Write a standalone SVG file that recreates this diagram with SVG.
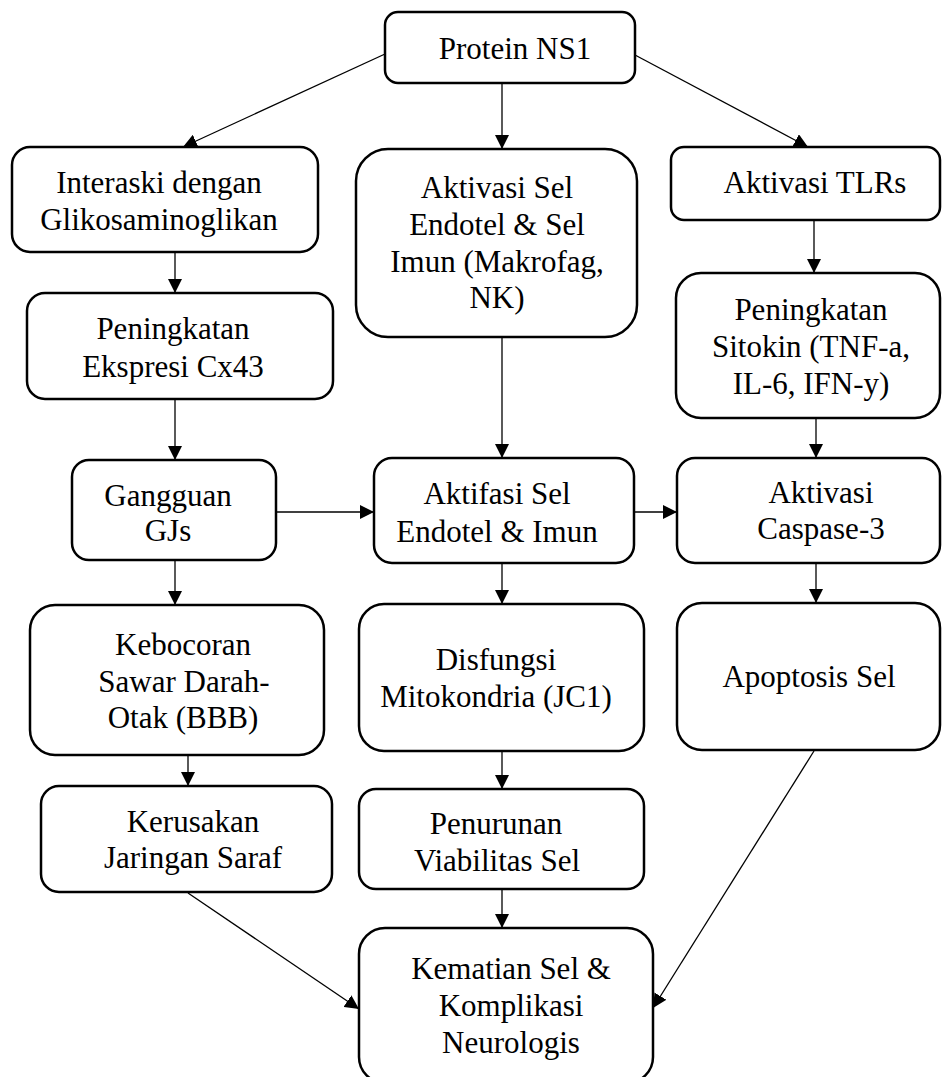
<svg xmlns="http://www.w3.org/2000/svg" width="942" height="1077" viewBox="0 0 942 1077">
<style>
.box{fill:#fff;stroke:#000;stroke-width:2.5}
.t{font-family:"Liberation Serif","Times New Roman",serif;font-size:31px;fill:#000;text-anchor:middle}
.c{stroke:#000;stroke-width:1.3;fill:none}
</style>
<defs>
<marker id="ah" viewBox="0 0 14 14" refX="14" refY="7" markerWidth="14" markerHeight="14" markerUnits="userSpaceOnUse" orient="auto">
<path d="M0,0 L14,7 L0,14 Z" fill="#000"/>
</marker>
</defs>
<rect width="942" height="1077" fill="#fff"/>
<g id="connectors">
<line class="c" x1="385" y1="54" x2="183" y2="147" marker-end="url(#ah)"/>
<line class="c" x1="502" y1="83" x2="502" y2="149" marker-end="url(#ah)"/>
<line class="c" x1="635" y1="55" x2="808" y2="147" marker-end="url(#ah)"/>
<line class="c" x1="814" y1="220" x2="814" y2="273" marker-end="url(#ah)"/>
<line class="c" x1="175" y1="252" x2="175" y2="293" marker-end="url(#ah)"/>
<line class="c" x1="175" y1="399" x2="175" y2="460" marker-end="url(#ah)"/>
<line class="c" x1="502" y1="337" x2="502" y2="458" marker-end="url(#ah)"/>
<line class="c" x1="816" y1="418" x2="816" y2="458" marker-end="url(#ah)"/>
<line class="c" x1="276" y1="512" x2="374" y2="512" marker-end="url(#ah)"/>
<line class="c" x1="634" y1="512" x2="677" y2="512" marker-end="url(#ah)"/>
<line class="c" x1="175" y1="560" x2="175" y2="605" marker-end="url(#ah)"/>
<line class="c" x1="502" y1="563" x2="502" y2="604" marker-end="url(#ah)"/>
<line class="c" x1="816" y1="563" x2="816" y2="603" marker-end="url(#ah)"/>
<line class="c" x1="188" y1="755" x2="188" y2="786" marker-end="url(#ah)"/>
<line class="c" x1="502" y1="751" x2="502" y2="789" marker-end="url(#ah)"/>
<line class="c" x1="502" y1="889" x2="502" y2="928" marker-end="url(#ah)"/>
<line class="c" x1="188" y1="893" x2="359" y2="1009" marker-end="url(#ah)"/>
<line class="c" x1="814" y1="751" x2="653" y2="1008" marker-end="url(#ah)"/>
</g>
<g id="n1"><rect class="box" x="385" y="12" width="250" height="71" rx="13"/><text class="t" x="515" y="59">Protein NS1</text></g>
<g id="n2"><rect class="box" x="12" y="147" width="306" height="105" rx="18"/><text class="t" x="159" y="193">Interaski dengan</text><text class="t" x="159" y="230">Glikosaminoglikan</text></g>
<g id="n3"><rect class="box" x="356" y="149" width="281" height="188" rx="32"/><text class="t" x="497" y="198">Aktivasi Sel</text><text class="t" x="497" y="235">Endotel &amp; Sel</text><text class="t" x="497" y="272">Imun (Makrofag,</text><text class="t" x="497" y="308">NK)</text></g>
<g id="n4"><rect class="box" x="671" y="147" width="269" height="73" rx="13"/><text class="t" x="815" y="193">Aktivasi TLRs</text></g>
<g id="n5"><rect class="box" x="27" y="293" width="306" height="106" rx="18"/><text class="t" x="173" y="339">Peningkatan</text><text class="t" x="173" y="377">Ekspresi Cx43</text></g>
<g id="n6"><rect class="box" x="676" y="273" width="264" height="145" rx="25"/><text class="t" x="811" y="320">Peningkatan</text><text class="t" x="811" y="357">Sitokin (TNF-a,</text><text class="t" x="811" y="394">IL-6, IFN-y)</text></g>
<g id="n7"><rect class="box" x="72" y="460" width="204" height="100" rx="17"/><text class="t" x="168" y="506">Gangguan</text><text class="t" x="168" y="541">GJs</text></g>
<g id="n8"><rect class="box" x="374" y="458" width="260" height="105" rx="18"/><text class="t" x="497" y="504">Aktifasi Sel</text><text class="t" x="497" y="542">Endotel &amp; Imun</text></g>
<g id="n9"><rect class="box" x="677" y="458" width="263" height="105" rx="18"/><text class="t" x="821" y="503">Aktivasi</text><text class="t" x="821" y="539">Caspase-3</text></g>
<g id="n10"><rect class="box" x="30" y="605" width="294" height="150" rx="25"/><text class="t" x="183" y="655">Kebocoran</text><text class="t" x="184" y="692">Sawar Darah-</text><text class="t" x="183" y="728">Otak (BBB)</text></g>
<g id="n11"><rect class="box" x="359" y="604" width="285" height="147" rx="25"/><text class="t" x="496" y="670">Disfungsi</text><text class="t" x="496" y="707">Mitokondria (JC1)</text></g>
<g id="n12"><rect class="box" x="677" y="603" width="263" height="147" rx="25"/><text class="t" x="809" y="687">Apoptosis Sel</text></g>
<g id="n13"><rect class="box" x="41" y="786" width="291" height="106" rx="18"/><text class="t" x="193" y="832">Kerusakan</text><text class="t" x="193" y="868">Jaringan Saraf</text></g>
<g id="n14"><rect class="box" x="359" y="789" width="285" height="100" rx="17"/><text class="t" x="496" y="834">Penurunan</text><text class="t" x="497" y="871">Viabilitas Sel</text></g>
<g id="n15"><rect class="box" x="359" y="928" width="294" height="155" rx="26"/><text class="t" x="511" y="979">Kematian Sel &amp;</text><text class="t" x="511" y="1016">Komplikasi</text><text class="t" x="511" y="1053">Neurologis</text></g>
</svg>
